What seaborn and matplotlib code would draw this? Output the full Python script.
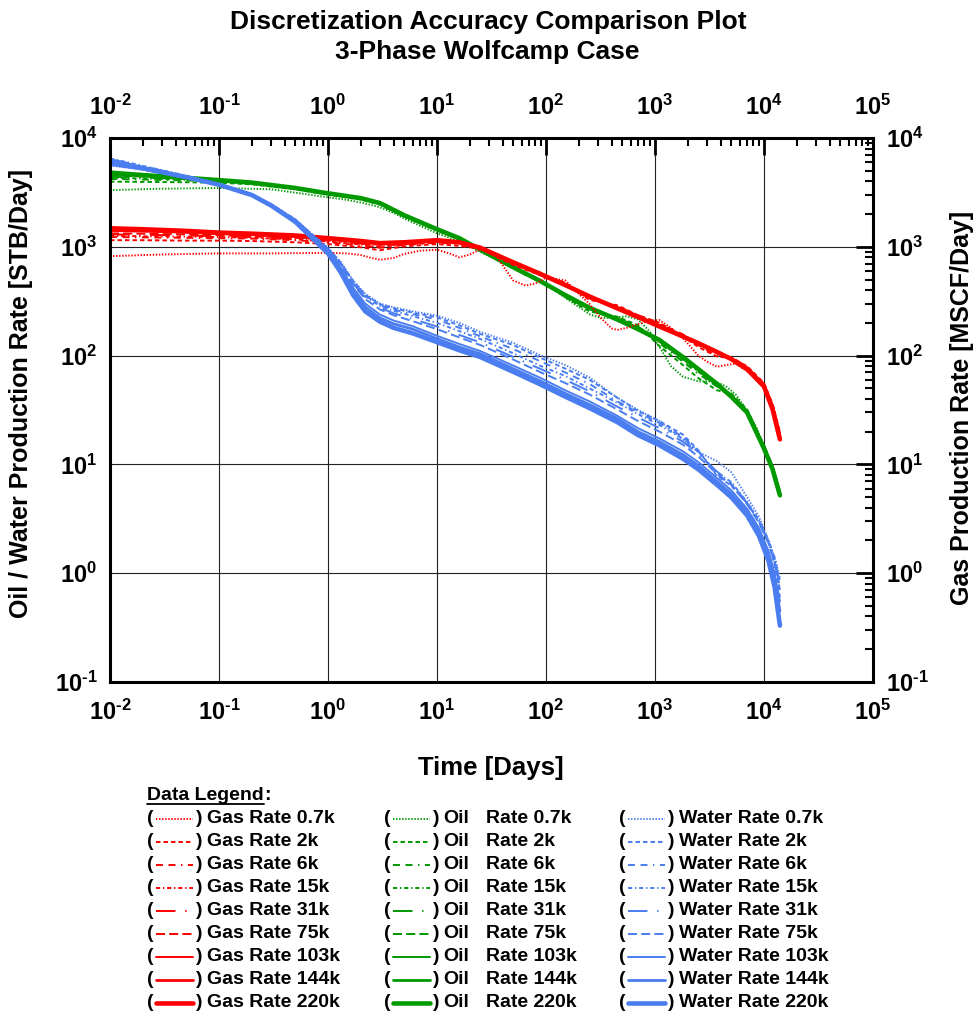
import numpy as np
import matplotlib
matplotlib.use("Agg")
import matplotlib.pyplot as plt
import seaborn as sns
from matplotlib.lines import Line2D
from matplotlib.ticker import FixedLocator, FuncFormatter, NullFormatter

sns.set_theme(style="white")
plt.rcParams["font.family"] = ["Liberation Sans", "DejaVu Sans"]
plt.rcParams["font.weight"] = "bold"
plt.rcParams["text.color"] = "black"
plt.rcParams["axes.labelcolor"] = "black"
plt.rcParams["xtick.color"] = "black"
plt.rcParams["ytick.color"] = "black"
plt.rcParams["mathtext.fontset"] = "custom"
plt.rcParams["mathtext.rm"] = "Liberation Sans:bold"
plt.rcParams["mathtext.bf"] = "Liberation Sans:bold"
plt.rcParams["mathtext.default"] = "rm"
plt.rcParams["lines.scale_dashes"] = False

# ---- data -------------------------------------------------------------
# shared time grid [days] for the smoother gas / oil runs
T = [0.01, 0.02, 0.05, 0.1, 0.2, 0.5, 1, 2, 3, 5, 10, 16, 25, 50, 90, 150,
     250, 450, 700, 1100, 1800, 2500, 3700, 5000, 7000, 10000, 12000, 14000]

# finer time grid for the coarsest (0.7k) gas / oil runs
T_COARSE = [0.01, 0.03, 0.1, 0.3, 1, 1.5, 2, 2.5, 3, 4, 5, 7, 10, 13, 16, 20, 25, 35, 50, 65,
            80, 100, 120, 150, 200, 250, 320, 400, 450, 550, 700, 900, 1100, 1400, 1800, 2500,
            3000, 3700, 4500, 5500, 7000, 8500, 10000, 12000, 14000]

# time grid [days] for the water runs
T_WATER = [0.01, 0.02, 0.05, 0.1, 0.2, 0.3, 0.5, 0.7, 1, 1.3, 1.7, 2.2, 3, 4, 6, 10, 16, 25,
           50, 90, 150, 250, 450, 700, 1100, 1800, 2500, 3700, 5000, 7000, 9000, 11000,
           12500, 14000]

RES = ["0.7k", "2k", "6k", "15k", "31k", "75k", "103k", "144k", "220k"]

X_DECADES = [1e-2, 1e-1, 1e0, 1e1, 1e2, 1e3, 1e4, 1e5]
Y_DECADES = [1e-1, 1e0, 1e1, 1e2, 1e3, 1e4]

GAS_07K = [820, 850, 870, 870, 880, 870, 840, 790, 760, 790, 860, 920, 940, 870, 800, 850,
           950, 820, 490, 440, 460, 520, 510, 490, 370, 300, 220, 178, 172, 180, 195, 210,
           212, 180, 145, 100, 88, 79, 82, 84, 72, 62, 54, 33, 18]
GAS_2K = [1150, 1150, 1140, 1140, 1130, 1100, 1060, 990, 930, 1010, 1060, 1020, 960, 680, 545, 470,
          325, 290, 235, 200, 150, 120, 98, 95, 80, 56, 36, 20]
GAS_6K = [1230, 1220, 1210, 1200, 1190, 1150, 1100, 1030, 980, 1040, 1090, 1060, 965, 735, 565, 450,
          335, 285, 235, 197, 157, 125, 100, 97, 79, 55, 35, 19]
GAS_15K = [1260, 1250, 1240, 1230, 1210, 1170, 1120, 1050, 1000, 1050, 1100, 1070, 970, 730, 575, 440,
           340, 282, 232, 193, 155, 128, 104, 96, 78, 55, 35, 19]
GAS_31K = [1300, 1290, 1270, 1250, 1230, 1190, 1140, 1070, 1020, 1060, 1110, 1080, 975, 728, 570, 442,
           345, 278, 230, 190, 153, 130, 106, 95, 77, 54, 34, 19]
GAS_75K = [1330, 1320, 1300, 1280, 1250, 1210, 1160, 1090, 1040, 1070, 1120, 1085, 975, 725, 565, 445,
           348, 275, 228, 188, 152, 131, 108, 94, 76, 54, 34, 18]
GAS_103K = [1400, 1380, 1350, 1310, 1280, 1240, 1180, 1110, 1060, 1080, 1130, 1090, 975, 722, 562, 446,
            350, 273, 227, 186, 151, 131, 109, 94, 76, 53, 33, 18]
GAS_144K = [1430, 1410, 1370, 1330, 1300, 1250, 1190, 1120, 1070, 1090, 1140, 1095, 978, 720, 560, 445,
            350, 272, 226, 185, 150, 130, 108, 93, 75, 53, 33, 18]
GAS_220K = [1480, 1450, 1400, 1350, 1320, 1270, 1200, 1130, 1080, 1100, 1150, 1100, 980, 720, 560, 445,
            350, 272, 226, 185, 150, 130, 108, 93, 75, 52, 32, 17]

OIL_07K = [3320, 3420, 3470, 3380, 2850, 2700, 2550, 2420, 2300, 2050, 1820, 1560, 1330, 1210, 1120,
           1010, 900, 760, 630, 550, 505, 450, 400, 340, 280, 240, 222, 223, 225, 230, 215, 165,
           120, 80, 64, 58, 58, 57, 52, 44, 31, 22, 14.5, 9.2, 5.3]
OIL_2K = [3970, 3950, 3920, 3880, 3750, 3380, 3020, 2720, 2440, 1890, 1410, 1170, 915, 635, 490, 345,
          255, 228, 190, 122, 82, 62, 48, 45, 32, 15, 9.6, 5.5]
OIL_6K = [4200, 4150, 4080, 3970, 3800, 3420, 3050, 2750, 2470, 1910, 1430, 1180, 920, 640, 488, 352,
          265, 222, 185, 130, 88, 68, 52, 44, 31, 15, 9.6, 5.6]
OIL_15K = [4300, 4250, 4130, 4000, 3820, 3430, 3060, 2760, 2480, 1920, 1435, 1185, 925, 642, 485, 355,
           268, 220, 182, 134, 92, 71, 53, 43, 31, 14.8, 9.5, 5.6]
OIL_31K = [4400, 4330, 4180, 4030, 3840, 3440, 3070, 2770, 2490, 1930, 1440, 1190, 930, 645, 483, 358,
           271, 218, 179, 137, 94, 73, 54, 43, 30.5, 14.6, 9.4, 5.5]
OIL_75K = [4550, 4420, 4230, 4060, 3860, 3450, 3080, 2780, 2500, 1940, 1445, 1195, 935, 648, 482, 360,
           273, 216, 177, 138, 96, 74, 54, 42, 30, 14.5, 9.3, 5.5]
OIL_103K = [4650, 4480, 4260, 4080, 3870, 3460, 3090, 2790, 2510, 1950, 1450, 1200, 940, 650, 481, 360,
            274, 215, 176, 139, 97, 75, 55, 42, 30, 14.3, 9.2, 5.4]
OIL_144K = [4750, 4530, 4290, 4090, 3880, 3470, 3100, 2800, 2520, 1950, 1450, 1200, 940, 650, 480, 360,
            275, 215, 175, 139, 97, 75, 55, 42, 30, 14.2, 9.1, 5.3]
OIL_220K = [4800, 4560, 4300, 4100, 3890, 3470, 3100, 2800, 2520, 1950, 1450, 1200, 940, 650, 480, 360,
            275, 215, 175, 139, 97, 75, 55, 42, 30, 14, 9, 5.2]

WATER_07K = [5600, 5100, 4300, 3700, 3000, 2460, 1790, 1330, 980, 730, 490, 368, 300, 278, 255, 233,
             200, 165, 131, 100, 82, 63, 41, 31.6, 25, 17, 13, 10.7, 8.5, 5.0, 3.3, 2.0, 1.4, 0.9]
WATER_2K = [6000, 5300, 4400, 3740, 3030, 2460, 1780, 1320, 970, 720, 485, 362, 297, 272, 248, 225,
            190, 158, 125, 95, 76, 60, 41, 31, 25, 18.8, 13.5, 7.8, 6.4, 4.4, 3.0, 1.9, 1.2, 0.6]
WATER_6K = [6200, 5400, 4420, 3740, 3020, 2450, 1770, 1310, 960, 710, 478, 356, 290, 265, 240, 215,
            180, 150, 115, 88, 70, 55, 38, 30, 24, 18, 13.2, 8.0, 6.6, 4.4, 3.0, 1.9, 1.3, 0.7]
WATER_15K = [6500, 5550, 4500, 3770, 3040, 2460, 1790, 1310, 950, 700, 470, 350, 285, 258, 230, 200,
             168, 142, 105, 80, 65, 50, 37, 29, 23, 17.2, 13, 8.4, 6.9, 4.5, 3.1, 2.0, 1.4, 0.85]
WATER_31K = [6400, 5500, 4480, 3760, 3030, 2450, 1780, 1300, 940, 690, 460, 340, 275, 245, 217, 185,
             155, 132, 97, 75, 60, 47, 34, 27, 21.5, 16.2, 12.5, 8.6, 6.8, 4.4, 3.0, 1.9, 1.3, 0.8]
WATER_75K = [6300, 5450, 4450, 3750, 3020, 2440, 1760, 1290, 930, 680, 450, 330, 265, 235, 207, 175,
             147, 125, 92, 70, 56, 44, 32, 25, 20, 15.2, 11.8, 8.2, 6.5, 4.3, 2.9, 1.9, 1.25, 0.75]
WATER_103K = [6100, 5350, 4400, 3730, 3000, 2420, 1740, 1270, 910, 650, 420, 300, 238, 210, 186, 152,
              128, 110, 81, 62, 48, 38, 28, 21.5, 17.3, 13.2, 10.5, 7.5, 5.8, 3.9, 2.6, 1.6, 1.0, 0.55]
WATER_144K = [5700, 5200, 4350, 3720, 3000, 2410, 1720, 1250, 890, 620, 390, 280, 222, 196, 175, 143,
              120, 104, 76, 58, 45, 35.5, 26.5, 20, 16.2, 12.3, 9.8, 7.0, 5.4, 3.7, 2.4, 1.5, 0.9, 0.45]
WATER_220K = [5900, 5270, 4370, 3720, 2990, 2400, 1700, 1230, 870, 590, 360, 255, 205, 180, 160, 133,
              112, 97, 71, 54, 42, 33, 24.5, 18.6, 15, 11.3, 9.0, 6.5, 5.0, 3.4, 2.2, 1.3, 0.75, 0.33]

GAS = [GAS_07K, GAS_2K, GAS_6K, GAS_15K, GAS_31K, GAS_75K, GAS_103K, GAS_144K, GAS_220K]
OIL = [OIL_07K, OIL_2K, OIL_6K, OIL_15K, OIL_31K, OIL_75K, OIL_103K, OIL_144K, OIL_220K]
WATER = [WATER_07K, WATER_2K, WATER_6K, WATER_15K, WATER_31K, WATER_75K, WATER_103K,
         WATER_144K, WATER_220K]

# ---- styles -----------------------------------------------------------
RED, GREEN, BLUE = "#ff0000", "#009900", "#4a7df0"
STYLES = [(0, (1.0, 1.2)), (0, (3.2, 2.2)), (0, (5, 4, 5, 4, 1, 4)), (0, (3, 2, 1, 2)),
          (0, (14, 7, 1, 7)), (0, (6.5, 3)), "-", "-", "-"]
WIDTHS = [1.4, 1.4, 1.4, 1.4, 1.4, 1.4, 1.4, 2.0, 3.3]

W, H = 979, 1013
fig = plt.figure(figsize=(W / 100, H / 100), dpi=100)
ax = fig.add_axes([110 / W, 1 - 682 / H, 763 / W, 544 / H])


def times_for(phase, idx):
    if phase == "Water":
        return T_WATER
    return T_COARSE if idx == 0 else T


for phase, color, group in [("Oil", GREEN, OIL), ("Gas", RED, GAS), ("Water", BLUE, WATER)]:
    for idx, (vals, ls, lw) in enumerate(zip(group, STYLES, WIDTHS)):
        sns.lineplot(x=times_for(phase, idx), y=vals, ax=ax, color=color, linestyle=ls,
                     linewidth=lw, estimator=None, sort=False, legend=False)

ax.set_xscale("log")
ax.set_yscale("log")
ax.set_xlim(X_DECADES[0], X_DECADES[-1])
ax.set_ylim(Y_DECADES[0], Y_DECADES[-1])
ax.set_xlabel("")
ax.set_ylabel("")


def decade_label(v, pos):
    e = int(np.round(np.log10(v)))
    return r"$10^{\text{%d}}$" % e


def minor_positions(decades):
    return [d * k for d in decades[:-1] for k in range(2, 10)]


for axis, decades in ((ax.xaxis, X_DECADES), (ax.yaxis, Y_DECADES)):
    axis.set_major_locator(FixedLocator(decades))
    axis.set_minor_locator(FixedLocator(minor_positions(decades)))
    axis.set_minor_formatter(NullFormatter())
    axis.set_major_formatter(FuncFormatter(decade_label))

ax.tick_params(which="both", direction="in", top=True, right=True,
               labeltop=True, labelright=True, colors="black", labelsize=17)
ax.tick_params(which="major", length=12, width=2.0)
ax.tick_params(which="minor", length=6, width=1.5)
ax.tick_params(axis="x", pad=13)
ax.tick_params(axis="y", pad=9)
ax.grid(True, which="major", color="#222222", linewidth=0.8)
for sp in ax.spines.values():
    sp.set_visible(True)
    sp.set_color("black")
    sp.set_linewidth(2.2)


def fx(x):
    return x / W


def fy(y):
    return 1 - y / H


# titles and axis labels
fig.text(fx(488), fy(22), "Discretization Accuracy Comparison Plot", ha="center", va="center",
         fontsize=19, weight="bold")
fig.text(fx(487), fy(52), "3-Phase Wolfcamp Case", ha="center", va="center",
         fontsize=19, weight="bold")
fig.text(fx(491), fy(768), "Time [Days]", ha="center", va="center", fontsize=18.5, weight="bold")
fig.text(fx(21), fy(393), "Oil / Water Production Rate [STB/Day]", ha="center", va="center",
         rotation=90, fontsize=18, weight="bold")
fig.text(fx(962), fy(408), "Gas Production Rate [MSCF/Day]", ha="center", va="center",
         rotation=90, fontsize=18, weight="bold")

# legend block
LEG_FS = 14
hdr = fig.text(fx(147), fy(795), "Data Legend", ha="left", va="center", fontsize=LEG_FS, weight="bold")
fig.canvas.draw()
bb = hdr.get_window_extent()
fig.text(bb.x1 / W, fy(795), ":", ha="left", va="center", fontsize=LEG_FS, weight="bold")
fig.add_artist(Line2D([bb.x0 / W, bb.x1 / W], [bb.y0 / H - 0.0005, bb.y0 / H - 0.0005],
                      transform=fig.transFigure, color="black", linewidth=1.3))

ROW0, DROW = 818.5, 23.0
columns = [(147, RED, "Gas Rate "), (384, GREEN, None), (619, BLUE, "Water Rate ")]
for cx, color, prefix in columns:
    for i, (res, ls, lw) in enumerate(zip(RES, STYLES, WIDTHS)):
        y = ROW0 + i * DROW
        fig.text(fx(cx), fy(y), "(", ha="left", va="center", fontsize=LEG_FS, weight="bold")
        fig.add_artist(Line2D([fx(cx + 9), fx(cx + 46)], [fy(y), fy(y)], transform=fig.transFigure,
                              color=color, linestyle=ls, linewidth=lw))
        fig.text(fx(cx + 49), fy(y), ")", ha="left", va="center", fontsize=LEG_FS, weight="bold")
        if prefix is None:
            fig.text(fx(cx + 59), fy(y), "Oil", ha="left", va="center", fontsize=LEG_FS, weight="bold")
            fig.text(fx(cx + 102), fy(y), "Rate " + res, ha="left", va="center",
                     fontsize=LEG_FS, weight="bold")
        else:
            fig.text(fx(cx + 60), fy(y), prefix + res, ha="left", va="center",
                     fontsize=LEG_FS, weight="bold")

fig.savefig("out.png", dpi=100)
